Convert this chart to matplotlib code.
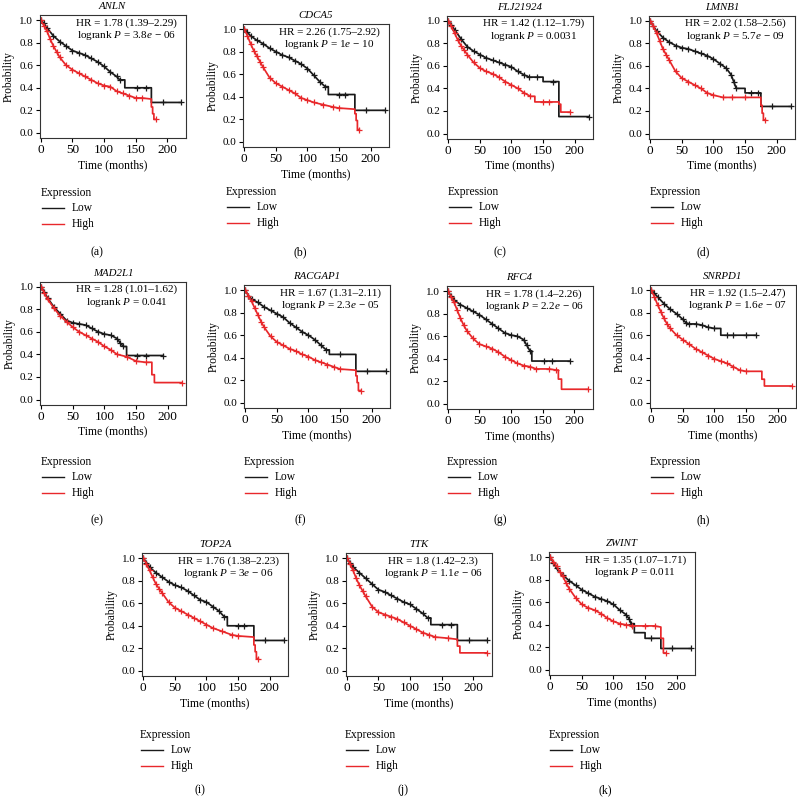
import matplotlib
matplotlib.use("Agg")
import matplotlib.pyplot as plt
from matplotlib.lines import Line2D

plt.rcParams['font.family'] = ['Liberation Serif', 'DejaVu Serif']
plt.rcParams['mathtext.fontset'] = 'custom'
plt.rcParams['mathtext.rm'] = 'Liberation Serif'
plt.rcParams['mathtext.it'] = 'Liberation Serif:italic'

# ---------------- data ----------------
genes = ["ANLN", "CDCA5", "FLJ21924", "LMNB1", "MAD2L1", "RACGAP1",
         "RFC4", "SNRPD1", "TOP2A", "TTK", "ZWINT"]
hr_text = ["1.78 (1.39–2.29)", "2.26 (1.75–2.92)", "1.42 (1.12–1.79)",
           "2.02 (1.58–2.56)", "1.28 (1.01–1.62)", "1.67 (1.31–2.11)",
           "1.78 (1.4–2.26)", "1.92 (1.5–2.47)", "1.76 (1.38–2.23)",
           "1.8 (1.42–2.3)", "1.35 (1.07–1.71)"]
p_text = ["3.8$e$ − 06", "1$e$ − 10", "0.0031", "5.7$e$ − 09", "0.041",
          "2.3$e$ − 05", "2.2$e$ − 06", "1.6$e$ − 07", "3$e$ − 06",
          "1.1$e$ − 06", "0.011"]
panel_tags = ["(a)", "(b)", "(c)", "(d)", "(e)", "(f)", "(g)", "(h)",
              "(i)", "(j)", "(k)"]
x_ticks = [0, 50, 100, 150, 200]
y_ticks = [0.0, 0.2, 0.4, 0.6, 0.8, 1.0]
legend_title = "Expression"
legend_labels = ["Low", "High"]

# (time in months, survival probability); repeated times = vertical drops
anln_low = [(0, 1.0), (5, 0.97), (10, 0.93), (20, 0.86), (30, 0.81), (40, 0.77),
            (50, 0.73), (60, 0.71), (70, 0.69), (80, 0.66), (90, 0.63), (100, 0.59),
            (110, 0.54), (120, 0.50), (125, 0.47), (133, 0.47), (133, 0.40),
            (153, 0.40), (167, 0.40), (175, 0.40), (175, 0.27), (193, 0.27),
            (222, 0.27)]
anln_high = [(0, 1.0), (5, 0.95), (10, 0.90), (15, 0.83), (20, 0.77), (25, 0.72),
             (30, 0.67), (40, 0.60), (50, 0.56), (60, 0.53), (70, 0.50), (80, 0.47),
             (90, 0.44), (100, 0.42), (110, 0.41), (120, 0.37), (130, 0.35),
             (140, 0.33), (150, 0.31), (160, 0.31), (175, 0.30), (175, 0.23),
             (177, 0.23), (177, 0.17), (179, 0.17), (179, 0.12), (182, 0.12)]
cdca5_low = [(0, 1.0), (5, 0.97), (10, 0.94), (20, 0.90), (30, 0.87), (40, 0.83),
             (50, 0.80), (60, 0.77), (70, 0.75), (80, 0.72), (90, 0.69), (100, 0.65),
             (110, 0.59), (120, 0.53), (128, 0.49), (133, 0.49), (133, 0.42),
             (150, 0.42), (160, 0.42), (175, 0.42), (175, 0.28), (193, 0.28),
             (222, 0.28)]
cdca5_high = [(0, 1.0), (5, 0.94), (10, 0.87), (15, 0.81), (20, 0.76), (25, 0.71),
              (30, 0.66), (40, 0.57), (50, 0.52), (60, 0.49), (70, 0.46), (80, 0.43),
              (90, 0.39), (100, 0.37), (110, 0.35), (125, 0.33), (140, 0.31),
              (150, 0.30), (175, 0.29), (175, 0.25), (177, 0.25), (177, 0.19),
              (179, 0.19), (179, 0.11), (182, 0.11)]
flj_low = [(0, 1.0), (5, 0.96), (10, 0.92), (20, 0.84), (30, 0.77), (40, 0.73),
           (50, 0.70), (60, 0.67), (70, 0.65), (80, 0.63), (90, 0.61), (100, 0.59),
           (110, 0.55), (120, 0.52), (128, 0.50), (140, 0.50), (150, 0.50),
           (150, 0.46), (165, 0.46), (175, 0.46), (175, 0.15), (222, 0.15)]
flj_high = [(0, 1.0), (5, 0.95), (10, 0.89), (15, 0.83), (20, 0.78), (25, 0.74),
            (30, 0.70), (40, 0.63), (50, 0.58), (60, 0.55), (70, 0.53), (80, 0.50),
            (90, 0.46), (100, 0.43), (110, 0.40), (120, 0.36), (130, 0.33),
            (137, 0.33), (137, 0.28), (150, 0.28), (160, 0.28), (175, 0.28),
            (175, 0.26), (178, 0.26), (178, 0.19), (193, 0.19)]
lmnb1_low = [(0, 1.0), (5, 0.95), (10, 0.91), (20, 0.85), (30, 0.81), (40, 0.78),
             (50, 0.76), (60, 0.75), (70, 0.73), (80, 0.71), (90, 0.69), (100, 0.66),
             (110, 0.62), (120, 0.58), (128, 0.52), (132, 0.46), (136, 0.40),
             (150, 0.40), (150, 0.36), (160, 0.36), (170, 0.36), (175, 0.36),
             (175, 0.24), (193, 0.24), (222, 0.24)]
lmnb1_high = [(0, 1.0), (5, 0.95), (10, 0.89), (15, 0.82), (20, 0.75), (25, 0.70),
              (30, 0.65), (40, 0.55), (50, 0.49), (60, 0.46), (70, 0.43), (80, 0.40),
              (90, 0.36), (100, 0.34), (115, 0.32), (130, 0.32), (150, 0.32),
              (175, 0.32), (175, 0.25), (177, 0.25), (177, 0.18), (179, 0.18),
              (179, 0.12), (182, 0.12)]
mad2l1_low = [(0, 1.0), (5, 0.95), (10, 0.90), (20, 0.82), (30, 0.76), (40, 0.70),
              (50, 0.68), (60, 0.67), (70, 0.66), (80, 0.63), (90, 0.60), (100, 0.58),
              (110, 0.57), (120, 0.54), (125, 0.50), (130, 0.47), (135, 0.47),
              (135, 0.39), (152, 0.39), (165, 0.39), (193, 0.39)]
mad2l1_high = [(0, 1.0), (5, 0.94), (10, 0.89), (20, 0.81), (30, 0.74), (40, 0.69),
               (50, 0.64), (60, 0.60), (70, 0.57), (80, 0.54), (90, 0.51), (100, 0.47),
               (110, 0.44), (120, 0.40), (135, 0.38), (150, 0.34), (165, 0.33),
               (175, 0.33), (175, 0.22), (179, 0.22), (179, 0.15), (222, 0.15)]
racgap1_low = [(0, 1.0), (5, 0.95), (10, 0.92), (20, 0.89), (30, 0.85), (40, 0.82),
               (50, 0.79), (60, 0.76), (70, 0.71), (80, 0.67), (90, 0.63), (100, 0.60),
               (110, 0.56), (120, 0.51), (128, 0.47), (133, 0.47), (133, 0.43),
               (150, 0.43), (175, 0.43), (175, 0.28), (193, 0.28), (222, 0.28)]
racgap1_high = [(0, 1.0), (5, 0.95), (10, 0.90), (15, 0.84), (20, 0.78), (25, 0.72),
                (30, 0.67), (40, 0.59), (50, 0.54), (60, 0.51), (70, 0.48), (80, 0.46),
                (90, 0.43), (100, 0.41), (110, 0.38), (120, 0.36), (130, 0.34),
                (140, 0.32), (150, 0.30), (175, 0.29), (175, 0.24), (177, 0.24),
                (177, 0.18), (179, 0.18), (179, 0.11), (183, 0.11)]
rfc4_low = [(0, 1.0), (5, 0.96), (10, 0.92), (20, 0.88), (30, 0.85), (40, 0.82),
            (50, 0.79), (60, 0.75), (70, 0.71), (80, 0.67), (90, 0.63), (100, 0.61),
            (110, 0.60), (120, 0.57), (125, 0.52), (130, 0.47), (133, 0.47),
            (133, 0.38), (152, 0.38), (165, 0.38), (193, 0.38)]
rfc4_high = [(0, 1.0), (5, 0.95), (10, 0.90), (15, 0.83), (20, 0.76), (25, 0.70),
             (30, 0.65), (40, 0.58), (50, 0.53), (60, 0.51), (70, 0.49), (80, 0.46),
             (90, 0.42), (100, 0.39), (110, 0.36), (120, 0.34), (130, 0.33),
             (140, 0.31), (160, 0.31), (172, 0.30), (175, 0.30), (175, 0.22),
             (180, 0.22), (180, 0.13), (222, 0.13)]
snrpd1_low = [(0, 1.0), (5, 0.97), (10, 0.94), (20, 0.88), (30, 0.83), (40, 0.79),
              (50, 0.74), (55, 0.71), (60, 0.70), (70, 0.70), (80, 0.69), (90, 0.67),
              (100, 0.66), (110, 0.66), (110, 0.60), (120, 0.60), (130, 0.60),
              (150, 0.60), (166, 0.60)]
snrpd1_high = [(0, 1.0), (5, 0.94), (10, 0.87), (15, 0.81), (20, 0.75), (25, 0.70),
               (30, 0.66), (40, 0.60), (50, 0.56), (60, 0.52), (70, 0.48), (80, 0.45),
               (90, 0.42), (100, 0.39), (110, 0.37), (120, 0.35), (130, 0.32),
               (140, 0.29), (150, 0.28), (175, 0.28), (175, 0.21), (179, 0.21),
               (179, 0.15), (222, 0.15)]
top2a_low = [(0, 1.0), (5, 0.96), (10, 0.92), (20, 0.87), (30, 0.83), (40, 0.79),
             (50, 0.76), (60, 0.74), (70, 0.71), (80, 0.67), (90, 0.63), (100, 0.61),
             (110, 0.57), (120, 0.53), (128, 0.48), (133, 0.48), (133, 0.40),
             (150, 0.40), (160, 0.40), (175, 0.40), (175, 0.27), (193, 0.27),
             (222, 0.27)]
top2a_high = [(0, 1.0), (5, 0.95), (10, 0.89), (15, 0.83), (20, 0.77), (25, 0.73),
              (30, 0.69), (40, 0.61), (50, 0.56), (60, 0.53), (70, 0.50), (80, 0.47),
              (90, 0.44), (100, 0.41), (110, 0.38), (125, 0.35), (140, 0.32),
              (150, 0.31), (175, 0.30), (175, 0.23), (177, 0.23), (177, 0.17),
              (179, 0.17), (179, 0.11), (182, 0.11)]
ttk_low = [(0, 1.0), (5, 0.96), (10, 0.92), (20, 0.87), (30, 0.82), (40, 0.77),
           (50, 0.72), (60, 0.70), (70, 0.67), (80, 0.64), (90, 0.61), (100, 0.59),
           (110, 0.55), (120, 0.51), (128, 0.47), (133, 0.47), (133, 0.41),
           (150, 0.41), (165, 0.41), (175, 0.41), (175, 0.27), (193, 0.27),
           (222, 0.27)]
ttk_high = [(0, 1.0), (5, 0.95), (10, 0.89), (15, 0.82), (20, 0.76), (25, 0.71),
            (30, 0.66), (40, 0.57), (50, 0.52), (60, 0.50), (70, 0.48), (80, 0.46),
            (90, 0.43), (100, 0.40), (110, 0.37), (120, 0.34), (130, 0.32),
            (140, 0.30), (160, 0.29), (175, 0.28), (175, 0.22), (179, 0.22),
            (179, 0.16), (222, 0.16)]
zwint_low = [(0, 1.0), (5, 0.95), (10, 0.90), (20, 0.84), (30, 0.79), (40, 0.75),
             (50, 0.71), (60, 0.68), (70, 0.65), (80, 0.63), (90, 0.61), (100, 0.58),
             (110, 0.53), (120, 0.49), (125, 0.45), (128, 0.41), (133, 0.41),
             (133, 0.33), (150, 0.33), (150, 0.28), (160, 0.28), (175, 0.28),
             (175, 0.19), (193, 0.19), (222, 0.19)]
zwint_high = [(0, 1.0), (5, 0.96), (10, 0.92), (15, 0.87), (20, 0.83), (25, 0.77),
              (30, 0.72), (40, 0.64), (50, 0.58), (60, 0.55), (70, 0.53), (80, 0.50),
              (90, 0.46), (100, 0.43), (110, 0.41), (120, 0.40), (130, 0.39),
              (150, 0.39), (165, 0.39), (175, 0.38), (175, 0.28), (179, 0.28),
              (179, 0.15), (183, 0.15)]

low_curves = [anln_low, cdca5_low, flj_low, lmnb1_low, mad2l1_low, racgap1_low,
              rfc4_low, snrpd1_low, top2a_low, ttk_low, zwint_low]
high_curves = [anln_high, cdca5_high, flj_high, lmnb1_high, mad2l1_high,
               racgap1_high, rfc4_high, snrpd1_high, top2a_high, ttk_high,
               zwint_high]

# ---------------- layout (pixels) ----------------
W, H = 797, 805
AX_W, AX_H = 146, 123
# axes left, axes top, legend left, legend 'Expression' y, tag x-centre, tag y
layout = [
    (39.5, 15.0, 40.5, 193, 97, 252),
    (243.0, 24.0, 226, 192, 300, 252),
    (447.0, 15.6, 448, 192, 500, 252),
    (649.0, 15.6, 650, 192, 703, 252),
    (40.0, 281.6, 40.5, 462, 97, 520),
    (244.0, 285.0, 244, 462, 300, 520),
    (446.5, 286.0, 447, 462, 500, 520),
    (650.0, 285.0, 650, 462, 703, 520),
    (142.0, 553.0, 140, 735, 200, 790),
    (345.5, 553.0, 345, 735, 403, 790),
    (549.0, 552.0, 549, 735, 605, 790),
]

RED = '#e8282b'
BLACK = '#1a1a1a'

fig = plt.figure(figsize=(W / 100, H / 100), dpi=100)


def fx(px):
    return px / W


def fy(py):
    return 1 - py / H


for i, gene in enumerate(genes):
    left, top, lg_x, lg_y, tag_x, tag_y = layout[i]
    ax = fig.add_axes([fx(left), fy(top + AX_H), AX_W / W, AX_H / H])
    for curve, col in ((low_curves[i], BLACK), (high_curves[i], RED)):
        t = [p[0] for p in curve]
        s = [p[1] for p in curve]
        marks = [k for k in range(len(t)) if t.count(t[k]) == 1]
        ax.plot(t, s, color=col, lw=1.25, marker='+', ms=4, mew=0.9,
                markevery=marks)
    ax.set_xlim(-2, 229)
    ax.set_ylim(-0.045, 1.045)
    ax.set_xticks(x_ticks)
    ax.set_xticklabels([str(v) for v in x_ticks])
    ax.set_yticks(y_ticks)
    ax.set_yticklabels([f"{v:.1f}" for v in y_ticks])
    ax.tick_params(axis='x', labelsize=9.5, length=3, width=0.8, pad=1.5)
    ax.tick_params(axis='y', labelsize=8, length=3, width=0.8, pad=1.5)
    for sp in ax.spines.values():
        sp.set_linewidth(0.8)
        sp.set_color('#333333')
    ax.set_xlabel("Time (months)", fontsize=8.5, labelpad=2)
    ax.set_ylabel("Probability", fontsize=8.3, labelpad=3)
    ax.set_title(gene, fontsize=7.8, style='italic', pad=4)
    ax.text(1 - 9 / AX_W, 1 - 3 / AX_H,
            f"HR = {hr_text[i]}\nlogrank $P$ = {p_text[i]}",
            transform=ax.transAxes, ha='right', va='top',
            multialignment='center', fontsize=8, linespacing=1.2)

    # legend
    fig.text(fx(lg_x), fy(lg_y), legend_title, fontsize=8.3, va='center', ha='left')
    for j, (lab, col) in enumerate(zip(legend_labels, (BLACK, RED))):
        yy = lg_y + 15 + j * 16
        fig.add_artist(Line2D([fx(lg_x + 1), fx(lg_x + 23)], [fy(yy), fy(yy)],
                              color=col, lw=1.0))
        fig.text(fx(lg_x + 31), fy(yy), lab, fontsize=8.3, va='center', ha='left')
    fig.text(fx(tag_x), fy(tag_y), panel_tags[i], fontsize=8.5, va='center', ha='center')

fig.savefig("out.png", dpi=100)
